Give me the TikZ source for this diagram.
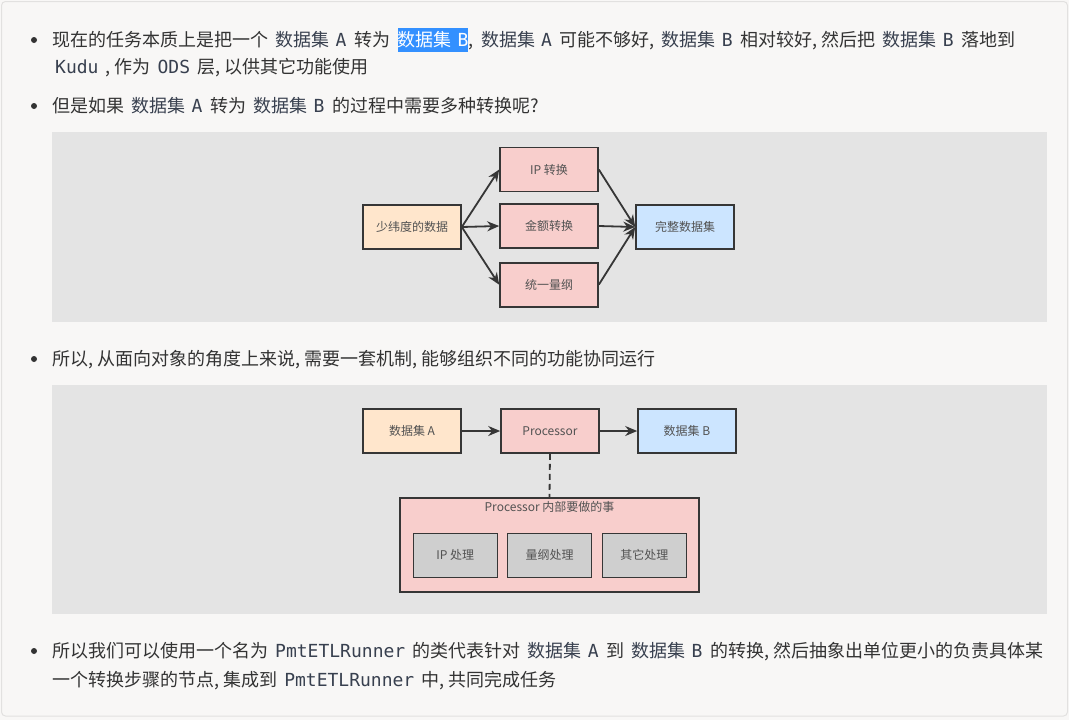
\documentclass[tikz,border=0pt]{standalone}
\usepackage{fontspec}
\setmainfont{Noto Sans CJK SC}
\newfontfamily\codefont{DejaVu Sans Mono}
\usetikzlibrary{arrows.meta,positioning}
\definecolor{pagebg}{HTML}{F8F7F6}
\definecolor{framecol}{HTML}{E2E1E0}
\definecolor{panelbg}{HTML}{E4E4E4}
\definecolor{txtcol}{HTML}{333333}
\definecolor{codecol}{HTML}{38404F}
\definecolor{hlblue}{HTML}{3390FF}
\definecolor{srcfill}{HTML}{FFE6CC}
\definecolor{stepfill}{HTML}{F8CECC}
\definecolor{dstfill}{HTML}{CCE5FF}
\definecolor{subfill}{HTML}{CFCFCF}
\definecolor{edgecol}{HTML}{363636}
% inline code and highlighted code
\newcommand{\code}[1]{\hspace{3pt}{\color{codecol}\codefont #1}\hspace{3pt}}
\newcommand{\dset}[1]{\hspace{3.5pt}{\color{codecol}数据集\hspace{6pt}{\codefont #1}}\hspace{3.5pt}}
\newcommand{\hlbox}[1]{\hspace{3.5pt}{\setlength{\fboxsep}{0pt}\colorbox{hlblue}{\rule[-5pt]{0pt}{24pt}\color{white}#1}}}

\begin{document}
\begin{tikzpicture}[x=1pt,y=-1pt,>=Stealth,
  txt/.style={anchor=base west,inner sep=0pt,text=txtcol,font=\fontsize{18}{21}\selectfont},
  dot/.style={circle,fill=txtcol,inner sep=0pt,minimum size=6pt},
  box/.style={draw=edgecol,line width=1.6pt,minimum width=98pt,minimum height=44pt,inner sep=0pt,text=txtcol!85,font=\fontsize{12}{14}\selectfont},
  subbox/.style={box,minimum width=84pt,fill=subfill},
  flow/.style={draw=edgecol,line width=1.8pt,-{Stealth[length=12pt,width=10pt]}}]
% page and panels
\fill[pagebg] (0,0) rectangle (1069,720);
\draw[framecol,line width=1pt,rounded corners=4pt] (1.5,1.5) rectangle (1067.5,716);
\fill[panelbg] (52,132) rectangle (1047,322);
\fill[panelbg] (52,385) rectangle (1047,614);
% bullets
\node[dot] (b1) at (34,40) {};
\node[dot] (b2) at (34,106) {};
\node[dot] (b3) at (34,359) {};
\node[dot] (b4) at (34,651) {};
% text lines
\node[txt] (l1) at (52,46.5) {现在的任务本质上是把一个 \dset{A} 转为 \hlbox{数据集\hspace{6pt}{\codefont B}}, \dset{A} 可能不够好, \dset{B} 相对较好, 然后把 \dset{B} 落地到};
\node[txt] (l2) at (52,73.5) {\code{Kudu} , 作为 \code{ODS} 层, 以供其它功能使用};
\node[txt] (l3) at (52,112.5) {但是如果 \dset{A} 转为 \dset{B} 的过程中需要多种转换呢?};
\node[txt] (l4) at (52,365.5) {所以, 从面向对象的角度上来说, 需要一套机制, 能够组织不同的功能协同运行};
\node[txt] (l5) at (52,657.5) {所以我们可以使用一个名为 \code{PmtETLRunner} 的类代表针对 \dset{A} 到 \dset{B} 的转换, 然后抽象出单位更小的负责具体某};
\node[txt] (l6) at (52,686.5) {一个转换步骤的节点, 集成到 \code{PmtETLRunner} 中, 共同完成任务};
% first diagram: fan out and back in
\node[box,fill=srcfill] (src) at (412,227) {少纬度的数据};
\node[box,fill=stepfill] (ip) at (549,169.5) {IP 转换};
\node[box,fill=stepfill] (amt) at (549,226) {金额转换};
\node[box,fill=stepfill] (unit) at (549,284.7) {统一量纲};
\node[box,fill=dstfill] (full) at (685,227) {完整数据集};
\draw[flow] (src.east) -- (ip.west);
\draw[flow] (src.east) -- (amt.west);
\draw[flow] (src.east) -- (unit.west);
\draw[flow] (ip.east) -- (full.west);
\draw[flow] (amt.east) -- (full.west);
\draw[flow] (unit.east) -- (full.west);
% second diagram: processor and its inside
\node[box,fill=srcfill] (dsa) at (412,431) {数据集 A};
\node[box,fill=stepfill] (proc) at (550,431) {Processor};
\node[box,fill=dstfill] (dsb) at (687,431) {数据集 B};
\draw[flow] (dsa) -- (proc);
\draw[flow] (proc) -- (dsb);
\node[box,fill=stepfill,minimum width=299pt,minimum height=94pt] (inside) at (549.5,545) {};
\node[text=txtcol!85,font=\fontsize{12}{14}\selectfont,inner sep=0pt] (insidetitle) at (549.5,507) {Processor 内部要做的事};
\node[subbox] (ipx) at (455.3,555.3) {IP 处理};
\node[subbox] (dimx) at (549.5,555.3) {量纲处理};
\node[subbox] (otherx) at (644.3,555.3) {其它处理};
\draw[edgecol,line width=1.8pt,dash pattern=on 6pt off 4pt] (proc.south) -- (inside.north);
\end{tikzpicture}
\end{document}
